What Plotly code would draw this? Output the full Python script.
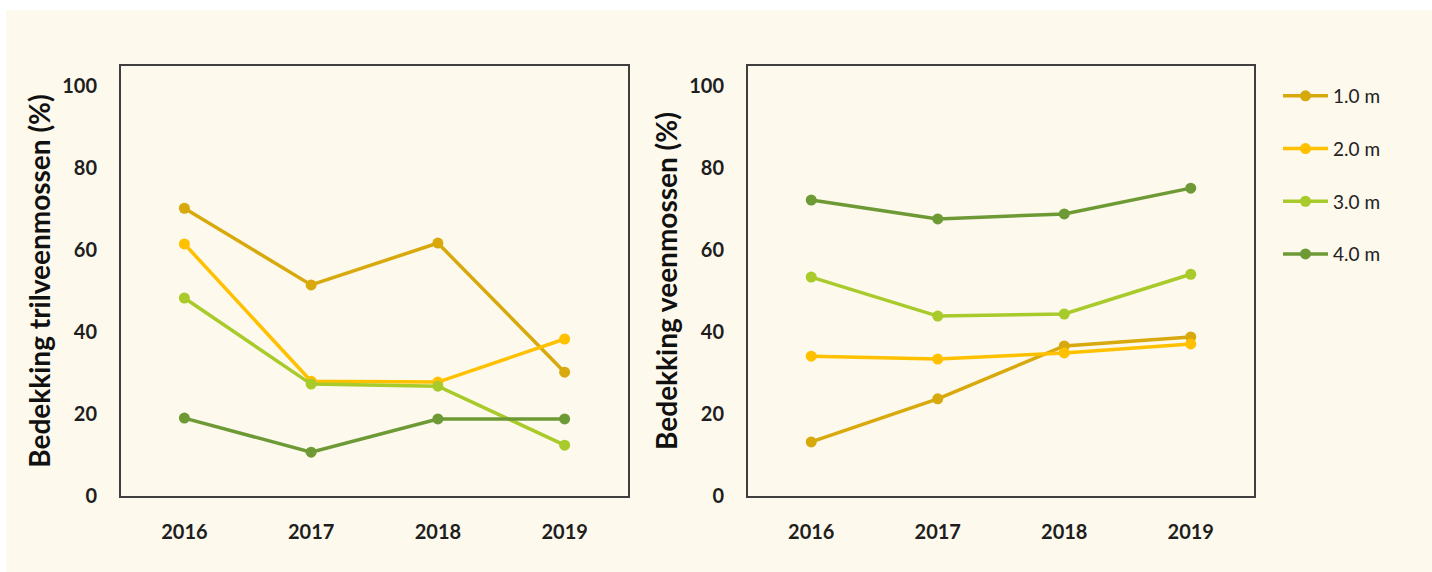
import plotly.graph_objects as go

years = ["2016", "2017", "2018", "2019"]
series_names = ["1.0 m", "2.0 m", "3.0 m", "4.0 m"]
colors = ["#D8A90C", "#FFC000", "#A8CA2A", "#6E9A36"]

# Left panel: Bedekking trilveenmossen (%)
tril_10 = [70.2, 51.5, 61.7, 30.2]
tril_20 = [61.5, 28.0, 27.8, 38.3]
tril_30 = [48.3, 27.3, 26.8, 12.4]
tril_40 = [19.0, 10.7, 18.8, 18.8]

# Right panel: Bedekking veenmossen (%)
veen_10 = [13.2, 23.7, 36.6, 38.8]
veen_20 = [34.1, 33.4, 34.9, 37.1]
veen_30 = [53.4, 43.9, 44.4, 54.1]
veen_40 = [72.2, 67.6, 68.8, 75.1]

y_ticks = [0, 20, 40, 60, 80, 100]

left_data = [tril_10, tril_20, tril_30, tril_40]
right_data = [veen_10, veen_20, veen_30, veen_40]

FONT = "Lato"
W, H = 1432, 572

fig = go.Figure()

for name, col, vals in zip(series_names, colors, left_data):
    fig.add_trace(go.Scatter(
        x=years, y=vals, name=name, mode="lines+markers",
        line=dict(color=col, width=3.5), marker=dict(color=col, size=11),
        xaxis="x", yaxis="y", showlegend=False))

for name, col, vals in zip(series_names, colors, right_data):
    fig.add_trace(go.Scatter(
        x=years, y=vals, name=name, mode="lines+markers", legendgroup=name,
        line=dict(color=col, width=3.5), marker=dict(color=col, size=11),
        xaxis="x2", yaxis="y2", showlegend=True))

ydom = [(H - 496) / H, (H - 66) / H]

tick_font = dict(family=FONT, size=20, color="#1E1E1E", weight="bold")
title_font = dict(family=FONT, size=28, color="#111111", weight="bold")

common_x = dict(type="category", range=[-0.5, 3.5], showgrid=False, zeroline=False,
                showline=True, linecolor="#3F3F3F", linewidth=2, mirror=True,
                ticks="outside", ticklen=17, tickcolor="rgba(0,0,0,0)",
                tickfont=tick_font, automargin=False)
common_y = dict(range=[0, 104.9], tickvals=y_ticks, showgrid=False, zeroline=False,
                showline=True, linecolor="#3F3F3F", linewidth=2, mirror=True,
                ticks="outside", ticklen=18, tickcolor="rgba(0,0,0,0)",
                tickfont=tick_font, domain=ydom, automargin=False)

fig.update_layout(
    width=W, height=H, autosize=False,
    margin=dict(l=0, r=0, t=0, b=0, autoexpand=False),
    paper_bgcolor="white",
    plot_bgcolor="#FDF9EC",
    font=dict(family=FONT),
    xaxis=dict(common_x, domain=[121 / W, 628 / W], anchor="y"),
    yaxis=dict(common_y, anchor="x",
               title=dict(text="Bedekking trilveenmossen (%)", standoff=3, font=title_font)),
    xaxis2=dict(common_x, domain=[748 / W, 1254 / W], anchor="y2"),
    yaxis2=dict(common_y, anchor="x2",
                title=dict(text="Bedekking veenmossen (%)", standoff=3, font=title_font)),
    legend=dict(x=1278 / W, y=(H - 77) / H, xanchor="left", yanchor="top",
                bgcolor="rgba(0,0,0,0)", tracegroupgap=25, itemwidth=45,
                font=dict(family=FONT, size=19, color="#222222")),
    shapes=[dict(type="rect", xref="paper", yref="paper", x0=6 / W, x1=1, y0=0, y1=(H - 10) / H,
                 fillcolor="#FDF9EC", line=dict(width=0), layer="below")],
)

fig.write_html("out.html",
               config={"responsive": False, "displayModeBar": False},
               post_script="document.body.style.margin='0';document.body.style.overflow='hidden';")
